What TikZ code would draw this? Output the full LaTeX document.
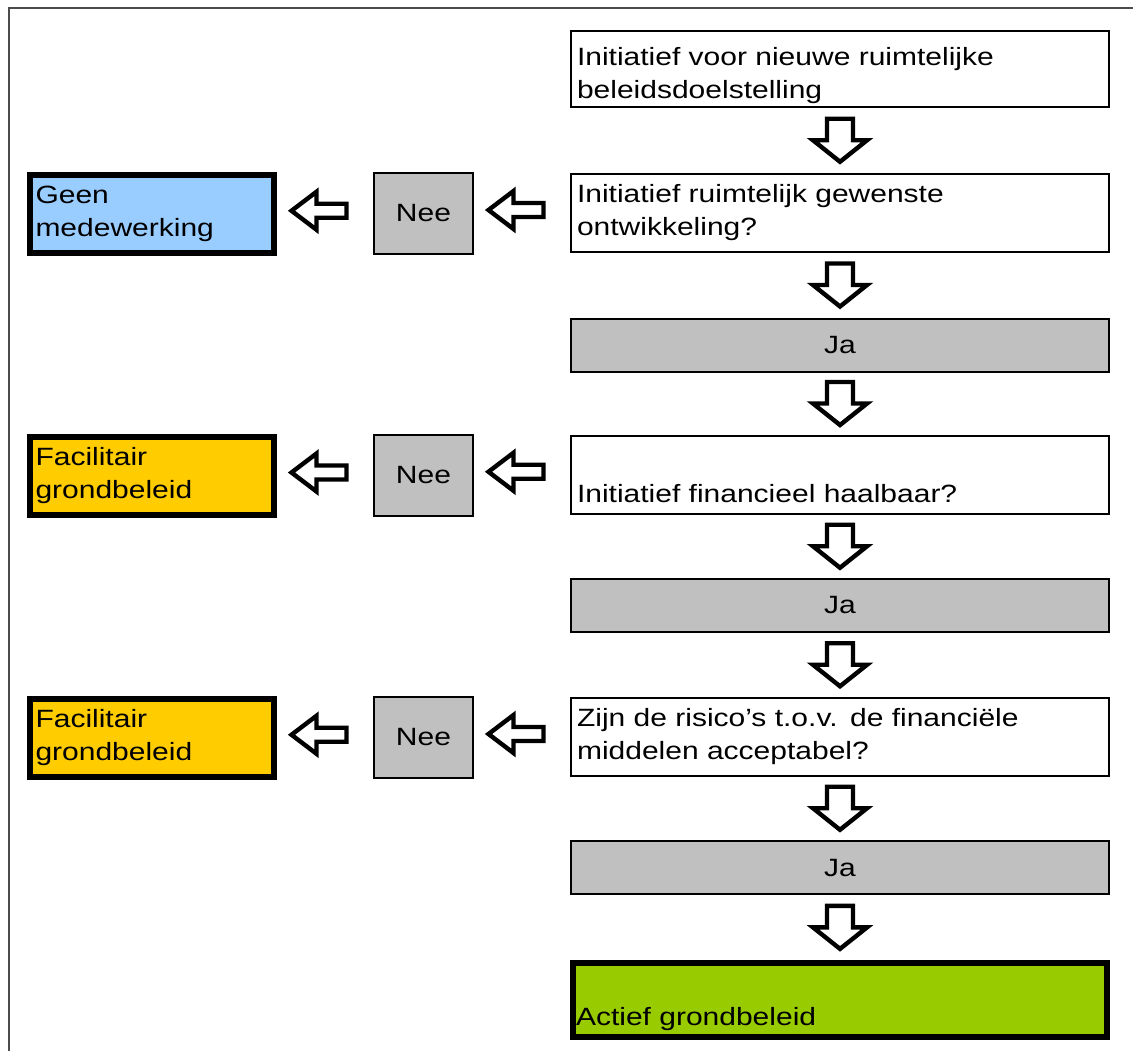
\documentclass[tikz,border=0pt]{standalone}
\usepackage{fontspec}
\setmainfont[FakeStretch=1.2]{Liberation Sans}
\usetikzlibrary{calc}
\definecolor{grijs}{HTML}{C0C0C0}
\definecolor{blauw}{HTML}{99CCFF}
\definecolor{oranje}{HTML}{FFCC00}
\definecolor{groen}{HTML}{99CC00}
\newcommand\tekst{\fontsize{12.5pt}{16.5pt}\selectfont}
\tikzset{
  kader/.style={draw=black!70, line width=1pt},
  vraag/.style={draw, line width=1pt, fill=white, minimum width=269pt, minimum height=39pt, text width=263pt, inner xsep=3pt, align=left},
  ja/.style={draw, line width=1pt, fill=grijs, minimum width=269pt, minimum height=26.5pt},
  nee/.style={draw, line width=1pt, fill=grijs, minimum width=49.5pt, minimum height=40.5pt},
  uitkomst/.style={draw, line width=3pt, fill=#1, minimum width=122pt, minimum height=39pt, text width=116.5pt, inner xsep=2.75pt, align=left},
  pijl/.style={draw, line width=2.2pt, fill=white},
  pics/omlaag/.style={code={
    \path[pijl] (-6.5pt,10.75pt) -- (6.5pt,10.75pt) -- (6.5pt,0pt) -- (13.5pt,0pt) -- (0pt,-10.75pt) -- (-13.5pt,0pt) -- (-6.5pt,0pt) -- cycle;}},
  pics/links/.style={code={
    \path[pijl] (13.75pt,3.5pt) -- (-1.25pt,3.5pt) -- (-1.25pt,9.5pt) -- (-13.75pt,0pt) -- (-1.25pt,-9.5pt) -- (-1.25pt,-3.5pt) -- (13.75pt,-3.5pt) -- cycle;}}
}
\begin{document}
\begin{tikzpicture}[x=0.5pt,y=-0.5pt,font=\tekst]
  \useasboundingbox (0,0) rectangle (1133,1051);
  \draw[kader] (9,1051) -- (9,8) -- (1133,8);
  % rechterkolom
  \node[vraag, minimum height=38pt, inner ysep=0pt, text height=16pt] (init) at (840,69) {Initiatief voor nieuwe ruimtelijke\\beleidsdoelstelling};
  \node[vraag] (gewenst) at (840,212.5) {Initiatief ruimtelijk gewenste\\ontwikkeling?};
  \node[ja] (ja1) at (840,345) {Ja};
  \node[vraag] (haalbaar) at (840,474.5) {\strut\\Initiatief financieel haalbaar?};
  \node[ja] (ja2) at (840,605.5) {Ja};
  \node[vraag] (risico) at (840,736.5) {Zijn de risico's t.o.v. de financiële\\middelen acceptabel?};
  \node[ja] (ja3) at (840,867.5) {Ja};
  \node[uitkomst=groen, minimum width=267pt, minimum height=37pt, text width=264pt, inner xsep=1.5pt] (actief) at (840,1000) {\strut\\Actief grondbeleid};
  % linkerkolom
  \node[nee] (nee1) at (423.5,213.5) {Nee};
  \node[nee] (nee2) at (423.5,475) {Nee};
  \node[nee] (nee3) at (423.5,737.5) {Nee};
  \node[uitkomst=blauw] (geen) at (152,214) {Geen\\medewerking};
  \node[uitkomst=oranje] (facil1) at (152,476) {Facilitair\\grondbeleid};
  \node[uitkomst=oranje] (facil2) at (152,738) {Facilitair\\grondbeleid};
  % pijlen
  \foreach \a/\b in {init/gewenst, gewenst/ja1, ja1/haalbaar, haalbaar/ja2, ja2/risico, risico/ja3, ja3/actief}
    \pic at ($(\a.south)!.5!(\b.north)$) {omlaag};
  \foreach \a/\b in {gewenst/nee1, nee1/geen, haalbaar/nee2, nee2/facil1, risico/nee3, nee3/facil2}
    \pic at ($(\a.west)!.5!(\b.east)+(-3pt,1.5pt)$) {links};
\end{tikzpicture}
\end{document}
